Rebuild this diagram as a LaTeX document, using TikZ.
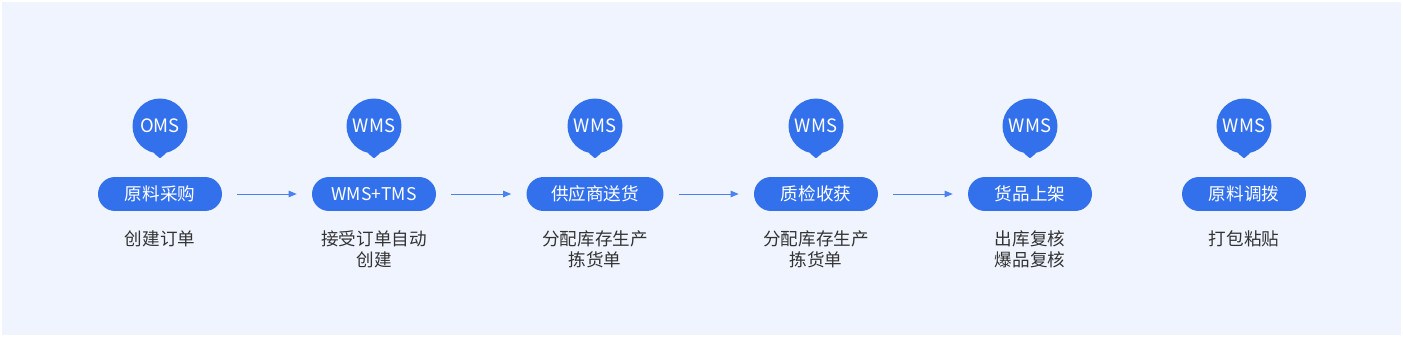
\documentclass[tikz,border=0pt]{standalone}
\usepackage{fontspec}
\setmainfont{Noto Sans CJK SC}
\usetikzlibrary{arrows.meta,positioning}
\definecolor{flowblue}{HTML}{3371EC}
\definecolor{flowline}{HTML}{4A80F0}
\definecolor{bgblue}{HTML}{EFF4FE}
\definecolor{notegray}{HTML}{333333}

\begin{document}
\begin{tikzpicture}[x=0.02cm, y=-0.02cm,
  stage/.style={fill=flowblue, text=white, rounded corners=0.34cm, minimum width=2.48cm, minimum height=0.68cm, inner sep=0pt, font=\fontsize{10}{12}\selectfont},
  pinhead/.style={circle, fill=flowblue, text=white, minimum size=1.1cm, inner sep=0pt, font=\fontsize{10.5}{12}\selectfont},
  note/.style={align=center, anchor=north, text=notegray, inner sep=0pt, font=\fontsize{10}{12}\selectfont},
  arrow/.style={-{Triangle[length=1.6mm, width=1.3mm]}, draw=flowline, line width=0.5pt, shorten <=0.3cm, shorten >=0.3cm}
]
% background
\fill[white] (0,0) rectangle (1403,337);
\fill[bgblue] (2,2) rectangle (1401,335);

% system pins
\node[pinhead] (p1) at (160,126) {OMS};
\node[pinhead] (p2) at (374,126) {WMS};
\node[pinhead] (p3) at (595,126) {WMS};
\node[pinhead] (p4) at (816,126) {WMS};
\node[pinhead] (p5) at (1030,126) {WMS};
\node[pinhead] (p6) at (1244,126) {WMS};
\foreach \p in {p1,p2,p3,p4,p5,p6}
  \fill[flowblue, rounded corners=0.5pt] (\p.-103) -- ([yshift=-0.09cm]\p.south) -- (\p.-77) -- cycle;

% stages
\node[stage] (s1) at (160,194) {原料采购};
\node[stage] (s2) at (374,194) {WMS+TMS};
\node[stage, minimum width=2.74cm] (s3) at (595,194) {供应商送货};
\node[stage] (s4) at (816,194) {质检收获};
\node[stage] (s5) at (1030,194) {货品上架};
\node[stage] (s6) at (1244,194) {原料调拨};

% notes
\node[note] (n1) at (160,230) {创建订单};
\node[note] (n2) at (374,230) {接受订单自动\\创建};
\node[note] (n3) at (595,230) {分配库存生产\\拣货单};
\node[note] (n4) at (816,230) {分配库存生产\\拣货单};
\node[note] (n5) at (1030,230) {出库复核\\爆品复核};
\node[note] (n6) at (1244,230) {打包粘贴};

\draw[arrow] (s1.east) -- (s2.west);
\draw[arrow] (s2.east) -- (s3.west);
\draw[arrow] (s3.east) -- (s4.west);
\draw[arrow] (s4.east) -- (s5.west);
\end{tikzpicture}
\end{document}
